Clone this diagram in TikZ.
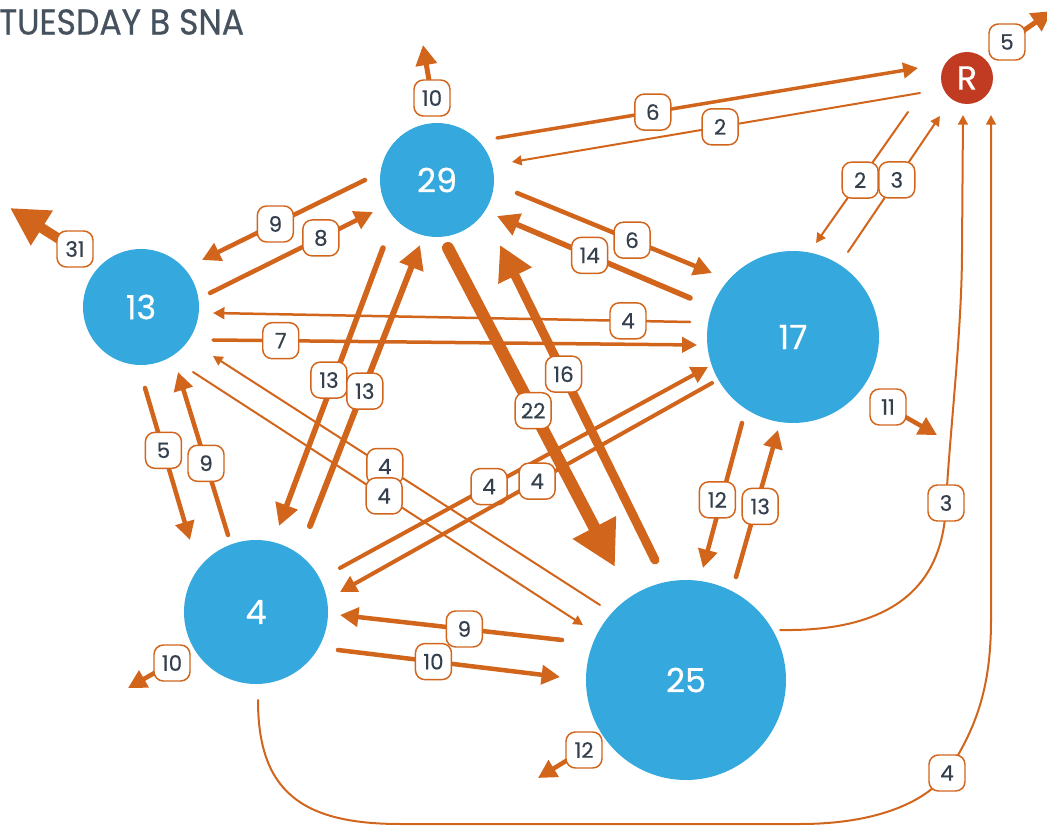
\documentclass[tikz,border=0pt]{standalone}
\usepackage{fontspec}
\setmainfont{Poppins}
\usetikzlibrary{arrows.meta,calc}
\definecolor{nodeblue}{HTML}{35A8DE}
\definecolor{edgeor}{HTML}{D2651C}
\definecolor{rred}{HTML}{C13B23}
\definecolor{labtxt}{HTML}{34404D}
\definecolor{titlec}{HTML}{45525E}
\begin{document}
\begin{tikzpicture}[x=0.75pt,y=-0.75pt,
  circ/.style={circle,fill=nodeblue,inner sep=0pt,outer sep=0pt,text=white,font=\fontsize{25}{25}\selectfont\addfontfeature{FakeBold=0.5}},
  ed/.style={draw=edgeor,line width=#1*0.75pt,line cap=round,-{Triangle[length=2pt 3.5,width=2pt 3.6]}},
  lbl/.style={draw=edgeor,line width=1.1pt,fill=white,rounded corners=7pt,minimum width=27pt,minimum height=27pt,inner sep=2pt,text=labtxt,font=\fontsize{16}{16}\selectfont\addfontfeature{FakeBold=0.4}}]
\useasboundingbox (0,0) rectangle (1047,827);
\node[anchor=west,text=titlec,font=\fontsize{27}{27}\selectfont\addfontfeature{FakeStretch=0.92,FakeBold=0.6},inner sep=0pt] (title) at (-1,22) {TUESDAY B SNA};
% nodes
\node[circ,minimum size=85.5pt] (n29) at (437,180) {29};
\node[circ,minimum size=87pt] (n13) at (141,307) {13};
\node[circ,minimum size=129pt] (n17) at (793,337) {17};
\node[circ,minimum size=108pt] (n4) at (256,612) {4};
\node[circ,minimum size=150pt] (n25) at (686,680) {25};
\node[circ,fill=rred,minimum size=39pt] (nR) at (967,78) {R};
% edges
\draw[ed=3.5] ($(n29)+(60,-42)$) -- node[lbl,pos=.37]{6} ($(nR)+(-49,-10)$);
\draw[ed=2] ($(nR)+(-47,15)$) -- node[lbl,pos=.49]{2} ($(n29)+(75,-18)$);
\draw[ed=2] ($(nR)+(-59,34)$) -- node[lbl,pos=.52]{2} ($(n17)+(23,-94)$);
\draw[ed=2] ($(n17)+(55,-85)$) -- node[lbl,pos=.53]{3} ($(nR)+(-27,38)$);
\draw[ed=2] ($(n25)+(94,-50)$) .. controls (900,632) and (944,580) .. (946,503) node[lbl]{3}
   .. controls (950,430) and (962,330) .. (962,250) -- ($(nR)+(-4,37)$);
\draw[ed=2] ($(n4)+(2,88)$) .. controls (258,790) and (300,824) .. (400,824) -- (800,824)
   .. controls (880,824) and (928,800) .. (947,773) node[lbl]{4}
   .. controls (975,730) and (991,690) .. (991,620) -- ($(nR)+(24,37)$);
\draw[ed=5] ($(nR)+(40,-36)$) -- node[lbl,pos=0]{5} ($(nR)+(85,-67)$);
\draw[ed=5] ($(n29)+(-5,-82)$) -- node[lbl,pos=0]{10} ($(n29)+(-14,-135)$);
\draw[ed=4.5] ($(n29)+(-72,0)$) -- node[lbl,pos=.55]{9} ($(n13)+(61,-47)$);
\draw[ed=4.5] ($(n13)+(69,-14)$) -- node[lbl,pos=.68]{8} ($(n29)+(-64,32)$);
\draw[ed=2.5] ($(n17)+(-103,-15)$) -- node[lbl,pos=.13]{4} ($(n13)+(72,6)$);
\draw[ed=3.5] ($(n13)+(72,33)$) -- node[lbl,pos=.14]{7} ($(n17)+(-96,8)$);
\draw[ed=4.5] ($(n29)+(80,13)$) -- node[lbl,pos=.59]{6} ($(n17)+(-81,-64)$);
\draw[ed=5.5] ($(n17)+(-103,-39)$) -- node[lbl,pos=.52]{14} ($(n29)+(60,36)$);
\draw[ed=5.5] ($(n29)+(-54,68)$) -- node[lbl,pos=.475,xshift=-3.5pt]{13} ($(n4)+(23,-86)$);
\draw[ed=6] ($(n4)+(54,-86)$) -- node[lbl,pos=.48,xshift=1.5pt]{13} ($(n29)+(-17,65)$);
\draw[ed=12] ($(n29)+(11,68)$) -- node[lbl,pos=.51]{22} ($(n25)+(-71,-113)$);
\draw[ed=9] ($(n25)+(-31,-120)$) -- node[lbl,pos=.59]{16} ($(n29)+(63,65)$);
\draw[ed=4.5] ($(n13)+(4,81)$) -- node[lbl,pos=.41]{5} ($(n4)+(-66,-72)$);
\draw[ed=4.5] ($(n4)+(-28,-77)$) -- node[lbl,pos=.44]{9} ($(n13)+(37,65)$);
\draw[ed=2] ($(n25)+(-86,-75)$) -- node[lbl,pos=.556]{4} ($(n13)+(72,49)$);
\draw[ed=2] ($(n13)+(52,65)$) -- node[lbl,pos=.49]{4} ($(n25)+(-103,-55)$);
\draw[ed=4] ($(n4)+(84,-44)$) -- node[lbl,pos=.405]{4} ($(n17)+(-85,30)$);
\draw[ed=4] ($(n17)+(-81,46)$) -- node[lbl,pos=.47]{4} ($(n4)+(84,-20)$);
\draw[ed=4.5] ($(n17)+(-51,86)$) -- node[lbl,pos=.53,xshift=-3pt]{12} ($(n25)+(17,-112)$);
\draw[ed=4.5] ($(n25)+(50,-103)$) -- node[lbl,pos=.48,xshift=3pt]{13} ($(n17)+(-15,93)$);
\draw[ed=4.5] ($(n25)+(-124,-40)$) -- node[lbl,pos=.44]{9} ($(n4)+(84,3)$);
\draw[ed=4.5] ($(n4)+(82,38)$) -- node[lbl,pos=.43]{10} ($(n25)+(-126,-3)$);
\draw[ed=10] ($(n13)+(-66,-58)$) -- node[lbl,pos=0]{31} ($(n13)+(-131,-99)$);
\draw[ed=4.5] ($(n4)+(-84,51)$) -- node[lbl,pos=0]{10} ($(n4)+(-128,76)$);
\draw[ed=4.5] ($(n25)+(-102,70)$) -- node[lbl,pos=0]{12} ($(n25)+(-148,98)$);
\draw[ed=4.5] ($(n17)+(95,70)$) -- node[lbl,pos=0]{11} ($(n17)+(144,98)$);
\end{tikzpicture}
\end{document}
